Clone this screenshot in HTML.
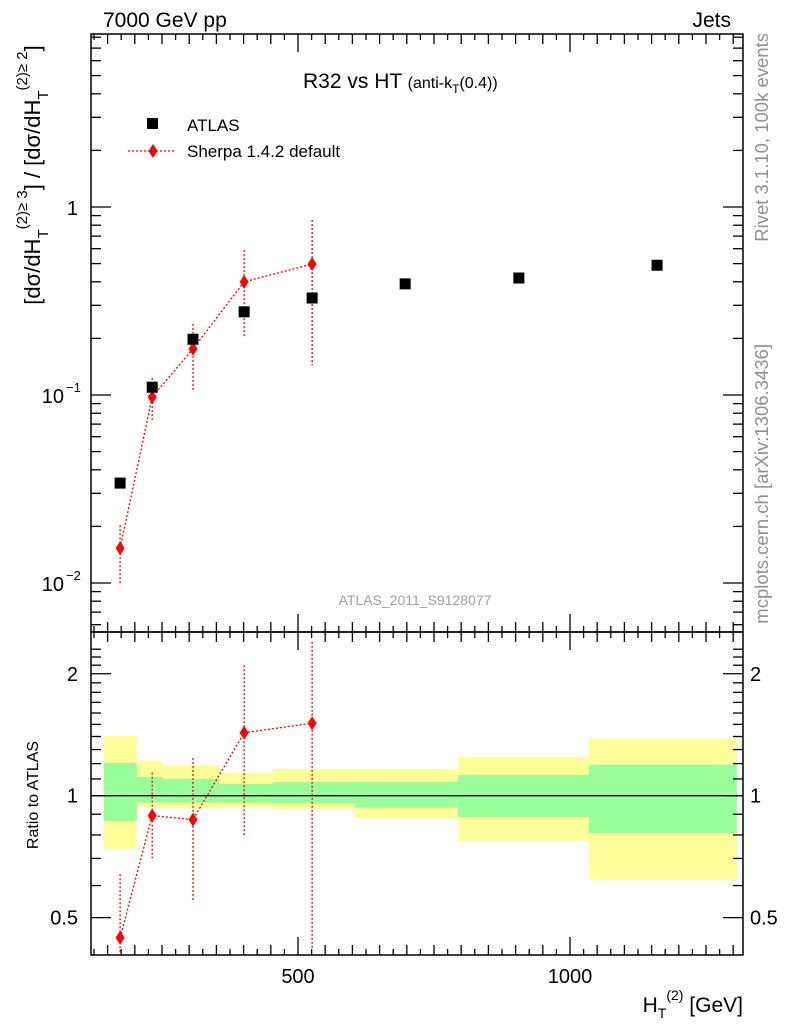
<!DOCTYPE html>
<html><head><meta charset="utf-8"><style>
body{margin:0;background:#fff;}
svg{display:block;font-family:"Liberation Sans",sans-serif;}
</style></head><body>
<svg id="c" width="786" height="1024"></svg>
<script>
const atlasX=[173,232,307,401,526,697,906,1160];
const atlasY=[0.034,0.110,0.198,0.277,0.328,0.39,0.419,0.49];
const sherpaX=[173,232,307,401,526];
const sherpaY=[0.0153,0.0975,0.176,0.40,0.497];
const sherpaUp=[0.0203,0.123,0.239,0.59,0.853];
const sherpaLo=[0.0098,0.0737,0.106,0.204,0.144];
const ratioY=[0.446,0.893,0.873,1.43,1.51];
const ratioUp=[0.64,1.14,1.24,2.1,2.4];
const ratioLo=[0.39,0.70,0.55,0.79,0.42];
const binEdges=[143,204,250,355,454,604,794,1035,1307];
const yelUp=[1.404,1.219,1.188,1.138,1.164,1.164,1.246,1.381];
const yelLo=[0.739,0.936,0.931,0.936,0.925,0.879,0.773,0.620];
const grnUp=[1.204,1.112,1.100,1.069,1.081,1.081,1.125,1.191];
const grnLo=[0.866,0.961,0.961,0.961,0.956,0.934,0.886,0.809];
const xTicks=[500,1000];

const L=91,R=743,T=34,M=632,B=955;
const X=v=>26+v*0.544;
const Y=v=>207-188*Math.log10(v);
const RY=v=>795.7-405*Math.log10(v);
const svg=document.getElementById('c');
const NS='http://www.w3.org/2000/svg';
function add(tag,attrs,parent){const e=document.createElementNS(NS,tag);for(const k in attrs)e.setAttribute(k,attrs[k]);(parent||svg).appendChild(e);return e;}
function txt(s,attrs,name){const e=add('text',attrs);e.textContent=s;

return e;}

for(let i=0;i<yelUp.length;i++){
 const x0=X(binEdges[i]),x1=X(binEdges[i+1]);
 let r=add('rect',{x:x0,y:RY(yelUp[i]),width:x1-x0,height:RY(yelLo[i])-RY(yelUp[i]),fill:'#ffff99'});
 
 
 r=add('rect',{x:x0,y:RY(grnUp[i]),width:x1-x0,height:RY(grnLo[i])-RY(grnUp[i]),fill:'#99ff99'});
 
 
}
add('line',{x1:L,x2:R,y1:RY(1),y2:RY(1),stroke:'#000','stroke-width':1.3});

let f=add('rect',{x:L,y:T,width:R-L,height:M-T,fill:'none',stroke:'#000','stroke-width':1.5});

f=add('rect',{x:L,y:M,width:R-L,height:B-M,fill:'none',stroke:'#000','stroke-width':1.5});


for(let v=125;v<=1300;v+=25){const x=X(v);if(x<=L+1||x>=R-1)continue;
 const len=v%500==0?18:(v%50==0?10:6);
 for(const [yb,dir] of [[T,1],[M,-1],[M,1],[B,-1]])
  add('line',{x1:x,x2:x,y1:yb,y2:yb+dir*len,stroke:'#000','stroke-width':1.3});}
xTicks.forEach(v=>txt(String(v),{x:X(v),y:983,'font-size':20,'text-anchor':'middle'},'x-tick-label'));

for(let d=-3;d<=0;d++)for(let m=1;m<10;m++){const v=m*Math.pow(10,d);const y=Y(v);if(y<T||y>M)continue;
 const len=m==1?20:10;
 add('line',{x1:L,x2:L+len,y1:y,y2:y,stroke:'#000','stroke-width':1.3});
 add('line',{x1:R,x2:R-len,y1:y,y2:y,stroke:'#000','stroke-width':1.3});}
txt('1',{x:78,y:215,'font-size':20,'text-anchor':'end'},'y-tick-label');
txt('10',{x:64,y:403,'font-size':20,'text-anchor':'end'},'y-tick-label');
txt('−1',{x:66,y:392,'font-size':13},'y-tick-exp');
txt('10',{x:64,y:591,'font-size':20,'text-anchor':'end'},'y-tick-label');
txt('−2',{x:66,y:580,'font-size':13},'y-tick-exp');

for(let v=0.5;v<=2.4;v+=0.1){const y=RY(v);if(y<M||y>B)continue;
 const major=[0.5,1,2].some(a=>Math.abs(a-v)<1e-6);const len=major?20:10;
 add('line',{x1:L,x2:L+len,y1:y,y2:y,stroke:'#000','stroke-width':1.3});
 add('line',{x1:R,x2:R-len,y1:y,y2:y,stroke:'#000','stroke-width':1.3});}
[[0.5,'0.5'],[1,'1'],[2,'2']].forEach(([v,s])=>{
 txt(s,{x:78,y:RY(v)+7,'font-size':20,'text-anchor':'end'},'ratio-tick-label-left');
 txt(s,{x:750,y:RY(v)+7,'font-size':20},'ratio-tick-label-right');});

const dash={stroke:'#ff0000','stroke-width':1.3,'stroke-dasharray':'2,2',fill:'none'};
let pl=add('polyline',Object.assign({points:sherpaX.map((x,i)=>X(x)+','+Y(sherpaY[i])).join(' ')},dash));

sherpaX.forEach((x,i)=>{const cx=X(x);
 add('line',Object.assign({x1:cx,x2:cx,y1:Y(sherpaUp[i]),y2:Y(sherpaLo[i])},dash));
 const p=add('polygon',{points:`${cx},${Y(sherpaY[i])-7} ${cx+4.5},${Y(sherpaY[i])} ${cx},${Y(sherpaY[i])+7} ${cx-4.5},${Y(sherpaY[i])}`,fill:'#ff0000'});
 });
atlasX.forEach((x,i)=>{const r=add('rect',{x:X(x)-5.5,y:Y(atlasY[i])-5.5,width:11,height:11,fill:'#000'});
 });
pl=add('polyline',Object.assign({points:sherpaX.map((x,i)=>X(x)+','+RY(ratioY[i])).join(' ')},dash));

sherpaX.forEach((x,i)=>{const cx=X(x);
 add('line',Object.assign({x1:cx,x2:cx,y1:Math.max(M,RY(ratioUp[i])),y2:Math.min(B,RY(ratioLo[i]))},dash));
 const y=RY(ratioY[i]);
 const p=add('polygon',{points:`${cx},${y-7} ${cx+4.5},${y} ${cx},${y+7} ${cx-4.5},${y}`,fill:'#ff0000'});
 });

txt('7000 GeV pp',{x:103,y:27,'font-size':21},'energy-label');
txt('Jets',{x:731,y:27,'font-size':21,'text-anchor':'end'},'process-label');
let t=txt('',{x:303,y:88,'font-size':21},'plot-title');
t.innerHTML='R32 vs HT <tspan font-size="16">(anti-k</tspan><tspan font-size="12" dy="5">T</tspan><tspan font-size="16" dy="-5">(0.4))</tspan>';
let lg=add('rect',{x:147,y:118,width:11,height:11,fill:'#000'});
txt('ATLAS',{x:187,y:131,'font-size':17},'legend-atlas');
add('line',Object.assign({x1:128,x2:175,y1:151,y2:151},dash));
lg=add('polygon',{points:'153,144 157.5,151 153,158 148.5,151',fill:'#ff0000'});
txt('Sherpa 1.4.2 default',{x:187,y:157,'font-size':17},'legend-sherpa');
txt('ATLAS_2011_S9128077',{x:415,y:605,'font-size':14,fill:'#a0a0a0','text-anchor':'middle'},'analysis-id');
txt('Rivet 3.1.10,  100k events',{x:0,y:0,'font-size':18.5,fill:'#909090','text-anchor':'end',transform:'translate(768,33) rotate(-90)'},'rivet-label');
txt('mcplots.cern.ch [arXiv:1306.3436]',{x:0,y:0,'font-size':18.5,fill:'#909090','text-anchor':'end',transform:'translate(768,344) rotate(-90)'},'mcplots-label');
txt('Ratio to ATLAS',{x:0,y:0,'font-size':16,'text-anchor':'middle',transform:'translate(38,795) rotate(-90)'},'ratio-y-title');
t=txt('',{x:0,y:0,'font-size':22,'text-anchor':'middle',transform:'translate(40,175) rotate(-90)'},'y-axis-title');
t.innerHTML='[dσ/dH<tspan font-size="15" dy="8">T</tspan><tspan font-size="15" dy="-21">(2)</tspan><tspan font-size="15" dy="0">≥ 3</tspan><tspan dy="13">] / [dσ/dH</tspan><tspan font-size="15" dy="8">T</tspan><tspan font-size="15" dy="-21">(2)</tspan><tspan font-size="15" dy="0">≥ 2</tspan><tspan dy="13">]</tspan>';
t=txt('',{x:743,y:1012,'font-size':21,'text-anchor':'end'},'x-axis-title');
t.innerHTML='H<tspan font-size="14" dy="6">T</tspan><tspan font-size="14" dy="-18">(2)</tspan><tspan dy="12"> [GeV]</tspan>';
</script>
</body></html>
